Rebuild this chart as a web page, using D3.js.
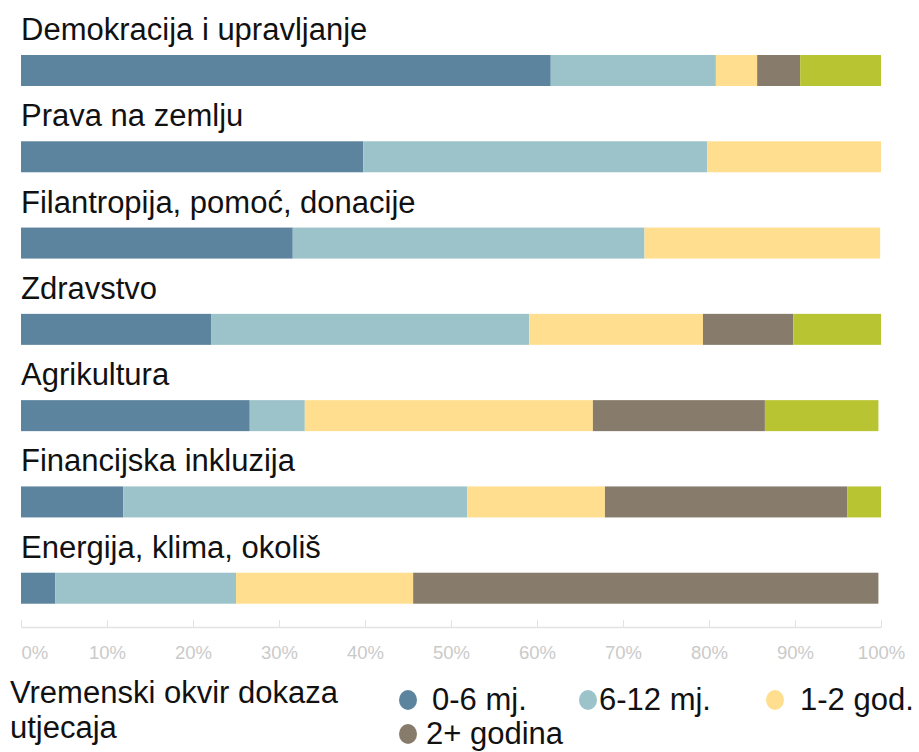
<!DOCTYPE html>
<html>
<head>
<meta charset="utf-8">
<script src="https://cdn.jsdelivr.net/npm/d3@7"></script>
<style>
  body { margin: 0; background: #fff; }
  svg text { font-family: "Liberation Sans", Arial, sans-serif; }
</style>
</head>
<body>
<div id="chart"></div>
<script>
  var categories = ["Demokracija i upravljanje", "Prava na zemlju", "Filantropija, pomoć, donacije",
                    "Zdravstvo", "Agrikultura", "Financijska inkluzija", "Energija, klima, okoliš"];
  var seriesNames = ["0-6 mj.", "6-12 mj.", "1-2 god.", "2+ godina", "ostalo"];
  var colors = ["#5d849e", "#9bc3c9", "#ffdf8f", "#877c6b", "#b9c432"];

  // per category, percent share of each series
  var s06  = [61.6, 39.8, 31.6, 22.1, 26.6, 11.9,  4.0];
  var s612 = [19.2, 40.0, 40.9, 37.0,  6.4, 40.0, 21.0];
  var s12  = [ 4.8, 20.2, 27.4, 20.2, 33.5, 16.0, 20.6];
  var s2p  = [ 5.0,  0.0,  0.0, 10.5, 20.0, 28.2, 54.1];
  var sOth = [ 9.4,  0.0,  0.0, 10.2, 13.2,  3.9,  0.0];
  var ticks = [0, 10, 20, 30, 40, 50, 60, 70, 80, 90, 100];
  var legendTitle = ["Vremenski okvir dokaza", "utjecaja"];

  var width = 919, height = 752;
  var barH = 31;
  var svg = d3.select("#chart").append("svg")
      .attr("width", width).attr("height", height);

  var rows = categories.map(function(c, i) {
    return { name: c, values: [s06[i], s612[i], s12[i], s2p[i], sOth[i]] };
  });

  var x = d3.scaleLinear().domain([0, 100]).range([21, 881]);
  // one band per category: label on top, bar underneath
  var y = d3.scaleBand().domain(categories).range([40, 644]).padding(0);

  var stack = d3.stack().keys([0, 1, 2, 3, 4]).value(function(d, k) { return d.values[k]; });
  var layers = stack(rows);

  svg.selectAll("g.layer")
    .data(layers)
    .enter().append("g")
      .attr("class", "layer")
      .attr("fill", function(d) { return colors[d.key]; })
    .selectAll("rect")
    .data(function(d) { return d; })
    .enter().append("rect")
      .attr("x", function(d) { return x(d[0]); })
      .attr("y", function(d) { return y(d.data.name) + 15; })
      .attr("width", function(d) { return x(d[1]) - x(d[0]); })
      .attr("height", barH);

  // category labels above the bars
  svg.selectAll("text.cat")
    .data(categories)
    .enter().append("text")
      .attr("class", "cat")
      .attr("x", 21)
      .attr("y", function(d) { return y(d); })
      .attr("font-size", 31)
      .attr("fill", "#111")
      .text(function(d) { return d; });

  // axis
  var axis = d3.axisBottom(x).tickValues(ticks).tickSize(0).tickFormat(function(d) { return d + "%"; });
  var gx = svg.append("g").attr("transform", "translate(0,627)").call(axis);
  gx.select(".domain").attr("stroke", "#e2e2e2").attr("stroke-width", 1.5);
  gx.selectAll(".tick line").attr("y1", 0).attr("y2", -7).attr("stroke", "#e2e2e2");
  gx.selectAll(".tick text")
    .attr("y", 26).attr("dy", "0.32em")
    .attr("font-size", 18.5).attr("fill", "#cacaca")
    .attr("font-family", "DejaVu Sans, Verdana, sans-serif");
  gx.select(".tick text").attr("text-anchor", "start").attr("x", 0);

  // legend
  svg.selectAll("text.ltitle")
    .data(legendTitle)
    .enter().append("text")
      .attr("class", "ltitle")
      .attr("x", 10)
      .attr("y", function(d, i) { return 703 + i * 35; })
      .attr("font-size", 31)
      .attr("fill", "#111")
      .text(function(d) { return d; });

  var legendItems = [
    { k: 0, cx: 408, cy: 700, tx: 432 },
    { k: 1, cx: 588, cy: 700, tx: 599 },
    { k: 2, cx: 775, cy: 700, tx: 800 },
    { k: 3, cx: 408, cy: 734, tx: 426 }
  ];
  var li = svg.selectAll("g.litem").data(legendItems).enter().append("g").attr("class", "litem");
  li.append("ellipse")
    .attr("cx", function(d) { return d.cx; })
    .attr("cy", function(d) { return d.cy; })
    .attr("rx", 9).attr("ry", 10)
    .attr("fill", function(d) { return colors[d.k]; });
  li.append("text")
    .attr("x", function(d) { return d.tx; })
    .attr("y", function(d) { return d.cy + 10; })
    .attr("font-size", 31)
    .attr("fill", "#111")
    .text(function(d) { return seriesNames[d.k]; });
</script>
</body>
</html>
